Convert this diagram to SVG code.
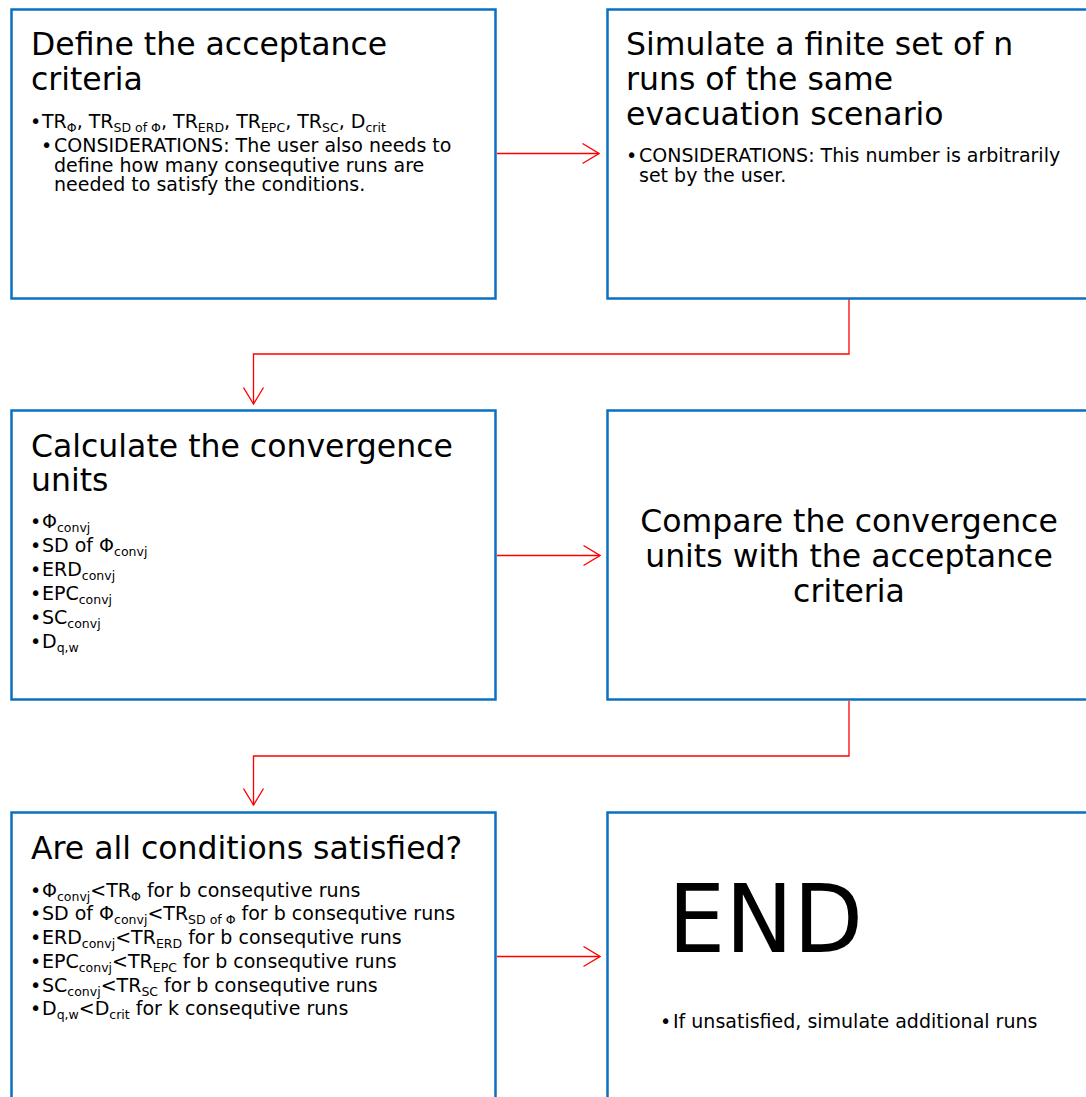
<svg xmlns="http://www.w3.org/2000/svg" width="1086" height="1097" viewBox="0 0 1086 1097">
<style>
.box{fill:#fff;stroke:#0A70C2;stroke-width:2.5}
text{font-family:"DejaVu Sans",Verdana,sans-serif;fill:#000}
.title{font-size:31.5px}
.body{font-size:19px}
.sub{font-size:12.5px}
.conn{fill:none;stroke:#FF0000;stroke-width:1.3}
</style>
<defs>
<marker id="arr" markerUnits="userSpaceOnUse" viewBox="0 0 18 22" refX="17" refY="11" markerWidth="18" markerHeight="22" orient="auto">
<path d="M0.5,1 L17,11 L0.5,21" fill="none" stroke="#FF0000" stroke-width="1.3"/>
</marker>
</defs>
<rect width="1086" height="1097" fill="#fff"/>

<g id="connectors">
<path class="conn" d="M497,153.5 L599,153.5" marker-end="url(#arr)"/>
<path class="conn" d="M849,299 L849,354 L253.5,354 L253.5,404" marker-end="url(#arr)"/>
<path class="conn" d="M497,555.5 L600,555.5" marker-end="url(#arr)"/>
<path class="conn" d="M849,701 L849,756 L253.5,756 L253.5,805" marker-end="url(#arr)"/>
<path class="conn" d="M497,956.5 L600,956.5" marker-end="url(#arr)"/>
</g>

<g id="node-define">
<rect class="box" x="11.5" y="9.5" width="484" height="289"/>
<text class="title" x="31" y="55">Define the acceptance</text>
<text class="title" x="31" y="90">criteria</text>
<text class="body" x="30" y="128">•</text>
<text class="body" x="42" y="128">TR<tspan class="sub" dy="4">Φ</tspan><tspan dy="-4">, TR</tspan><tspan class="sub" dy="4">SD of Φ</tspan><tspan dy="-4">, TR</tspan><tspan class="sub" dy="4">ERD</tspan><tspan dy="-4">, TR</tspan><tspan class="sub" dy="4">EPC</tspan><tspan dy="-4">, TR</tspan><tspan class="sub" dy="4">SC</tspan><tspan dy="-4">, D</tspan><tspan class="sub" dy="4">crit</tspan></text>
<text class="body" x="41" y="152">•</text>
<text class="body" x="54" y="152">CONSIDERATIONS: The user also needs to</text>
<text class="body" x="54" y="171.5">define how many consequtive runs are</text>
<text class="body" x="54" y="191">needed to satisfy the conditions.</text>
</g>

<g id="node-simulate">
<rect class="box" x="607.5" y="9.5" width="484" height="289"/>
<text class="title" x="626" y="54.5">Simulate a finite set of n</text>
<text class="title" x="626" y="89.5">runs of the same</text>
<text class="title" x="626" y="124.5">evacuation scenario</text>
<text class="body" x="626" y="162">•</text>
<text class="body" x="639" y="162">CONSIDERATIONS: This number is arbitrarily</text>
<text class="body" x="639" y="182">set by the user.</text>
</g>

<g id="node-calculate">
<rect class="box" x="11.5" y="410.5" width="484" height="289"/>
<text class="title" x="31" y="456.5">Calculate the convergence</text>
<text class="title" x="31" y="491">units</text>
<text class="body" x="30" y="528">•</text>
<text class="body" x="42" y="528">Φ<tspan class="sub" dy="4">convj</tspan></text>
<text class="body" x="30" y="552">•</text>
<text class="body" x="42" y="552">SD of Φ<tspan class="sub" dy="4">convj</tspan></text>
<text class="body" x="30" y="576">•</text>
<text class="body" x="42" y="576">ERD<tspan class="sub" dy="4">convj</tspan></text>
<text class="body" x="30" y="600">•</text>
<text class="body" x="42" y="600">EPC<tspan class="sub" dy="4">convj</tspan></text>
<text class="body" x="30" y="624">•</text>
<text class="body" x="42" y="624">SC<tspan class="sub" dy="4">convj</tspan></text>
<text class="body" x="30" y="648">•</text>
<text class="body" x="42" y="648">D<tspan class="sub" dy="4">q,w</tspan></text>
</g>

<g id="node-compare">
<rect class="box" x="607.5" y="410.5" width="484" height="289"/>
<text class="title" x="849" y="532" text-anchor="middle">Compare the convergence</text>
<text class="title" x="849" y="567" text-anchor="middle">units with the acceptance</text>
<text class="title" x="849" y="602" text-anchor="middle">criteria</text>
</g>

<g id="node-conditions">
<rect class="box" x="11.5" y="812.5" width="484" height="289"/>
<text class="title" x="31" y="858.5">Are all conditions satisfied?</text>
<text class="body" x="30" y="897">•</text>
<text class="body" x="42" y="897">Φ<tspan class="sub" dy="4">convj</tspan><tspan dy="-4">&lt;TR</tspan><tspan class="sub" dy="4">Φ</tspan><tspan dy="-4"> for b consequtive runs</tspan></text>
<text class="body" x="30" y="920">•</text>
<text class="body" x="42" y="920">SD of Φ<tspan class="sub" dy="4">convj</tspan><tspan dy="-4">&lt;TR</tspan><tspan class="sub" dy="4">SD of Φ</tspan><tspan dy="-4"> for b consequtive runs</tspan></text>
<text class="body" x="30" y="943.5">•</text>
<text class="body" x="42" y="943.5">ERD<tspan class="sub" dy="4">convj</tspan><tspan dy="-4">&lt;TR</tspan><tspan class="sub" dy="4">ERD</tspan><tspan dy="-4"> for b consequtive runs</tspan></text>
<text class="body" x="30" y="967.5">•</text>
<text class="body" x="42" y="967.5">EPC<tspan class="sub" dy="4">convj</tspan><tspan dy="-4">&lt;TR</tspan><tspan class="sub" dy="4">EPC</tspan><tspan dy="-4"> for b consequtive runs</tspan></text>
<text class="body" x="30" y="991.5">•</text>
<text class="body" x="42" y="991.5">SC<tspan class="sub" dy="4">convj</tspan><tspan dy="-4">&lt;TR</tspan><tspan class="sub" dy="4">SC</tspan><tspan dy="-4"> for b consequtive runs</tspan></text>
<text class="body" x="30" y="1015">•</text>
<text class="body" x="42" y="1015">D<tspan class="sub" dy="4">q,w</tspan><tspan dy="-4">&lt;D</tspan><tspan class="sub" dy="4">crit</tspan><tspan dy="-4"> for k consequtive runs</tspan></text>
</g>

<g id="node-end">
<rect class="box" x="607.5" y="812.5" width="484" height="289"/>
<text x="668" y="952" font-size="95" textLength="195" lengthAdjust="spacingAndGlyphs">END</text>
<text class="body" x="660" y="1028">•</text>
<text class="body" x="673" y="1028">If unsatisfied, simulate additional runs</text>
</g>
</svg>
